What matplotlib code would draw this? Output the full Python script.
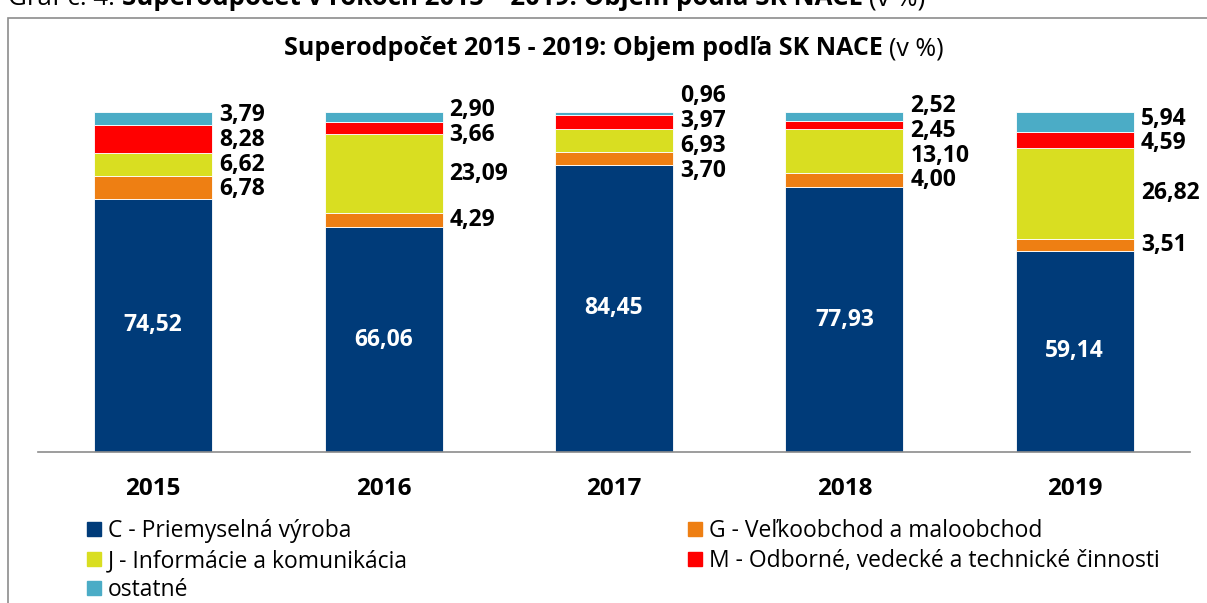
import matplotlib.pyplot as plt
from matplotlib.patches import Rectangle, Patch

plt.rcParams['font.family'] = ['Open Sans', 'DejaVu Sans']

years = ['2015', '2016', '2017', '2018', '2019']
sector_c = [74.52, 66.06, 84.45, 77.93, 59.14]
sector_g = [6.78, 4.29, 3.70, 4.00, 3.51]
sector_j = [6.62, 23.09, 6.93, 13.10, 26.82]
sector_m = [8.28, 3.66, 3.97, 2.45, 4.59]
ostatne = [3.79, 2.90, 0.96, 2.52, 5.94]

names = ['C - Priemyselná výroba', 'G - Veľkoobchod a maloobchod',
         'J - Informácie a komunikácia', 'M - Odborné, vedecké a technické činnosti',
         'ostatné']
colors = ['#003B79', '#EE7F13', '#D9DE21', '#FF0000', '#4BACC6']
series = [sector_c, sector_g, sector_j, sector_m, ostatne]

W, H = 1207, 603
fig = plt.figure(figsize=(W / 100, H / 100), dpi=100)
ax = fig.add_axes([38 / W, 151 / H, 1152 / W, 340 / H])
ax.set_xlim(-0.5, 4.5)
ax.set_ylim(0, 100)

bar_w = 0.512
x = range(len(years))
bottoms = [0.0] * len(years)
for vals, col, name in zip(series, colors, names):
    ax.bar(x, vals, bar_w, bottom=bottoms, color=col, edgecolor='white',
           linewidth=0.6, label=name, clip_on=False)
    bottoms = [b + v for b, v in zip(bottoms, vals)]


def fmt(v):
    return f'{v:.2f}'.replace('.', ',')


def spread(centers, gap, iters=300):
    pos = list(centers)
    for _ in range(iters):
        for k in range(len(pos) - 1):
            d = pos[k + 1] - pos[k]
            if d < gap:
                s = (gap - d) / 2
                pos[k] -= s
                pos[k + 1] += s
    return pos


# values inside the dark bars, the rest labelled to the right
for i in x:
    ax.text(i, sector_c[i] / 2, fmt(sector_c[i]), color='white',
            fontsize=16.5, fontweight='bold', ha='center', va='center')
    base = sector_c[i]
    centers, labels = [], []
    for vals in series[1:]:
        centers.append(base + vals[i] / 2)
        labels.append(fmt(vals[i]))
        base += vals[i]
    for y, lab in zip(spread(centers, 7.3), labels):
        ax.annotate(lab, (i + bar_w / 2, y), xytext=(5, 0),
                    textcoords='offset points', fontsize=16.5,
                    fontweight='bold', va='center', ha='left',
                    annotation_clip=False)

for s in ['top', 'left', 'right']:
    ax.spines[s].set_visible(False)
ax.spines['bottom'].set_color('#8c8c8c')
ax.spines['bottom'].set_linewidth(1.2)
ax.set_yticks([])
ax.set_xticks(list(x))
ax.set_xticklabels(years, fontsize=17.5, fontweight='bold')
ax.tick_params(axis='x', length=0, pad=18)

# outer chart frame
fig.patches.append(Rectangle((8 / W, -0.05), 1.2, 1 - 18 / H + 0.05,
                             transform=fig.transFigure, fill=False,
                             edgecolor='#8c8c8c', linewidth=1.2))

renderer = fig.canvas.get_renderer()


def mixed_text(xpos, ypos, parts, size, center=False):
    items = []
    cur = xpos
    for txt, weight in parts:
        t = fig.text(cur, ypos, txt, fontsize=size, fontweight=weight,
                     va='baseline', ha='left')
        bb = t.get_window_extent(renderer)
        cur += bb.width / W
        items.append(t)
    if center:
        shift = (cur - xpos) / 2
        for t in items:
            t.set_x(t.get_position()[0] - shift)


mixed_text(614 / W, 1 - 55 / H,
           [('Superodpočet 2015 - 2019: Objem podľa SK NACE ', 'bold'),
            ('(v %)', 'normal')], 18, center=True)
mixed_text(8 / W, 1 - 5 / H,
           [('Graf č. 4: ', 'normal'),
            ('Superodpočet v rokoch 2015 – 2019: Objem podľa SK NACE ', 'bold'),
            ('(v %)', 'normal')], 18.6)

handles = [Patch(color=c) for c in colors]
common = dict(frameon=False, fontsize=16.5, handlelength=0.58, handleheight=0.58,
              handletextpad=0.3, borderpad=0, labelspacing=0.24,
              loc='upper left')
fig.legend([handles[0], handles[2], handles[4]], [names[0], names[2], names[4]],
           bbox_to_anchor=(76 / W, 1 - 508 / H), **common)
fig.legend([handles[1], handles[3]], [names[1], names[3]],
           bbox_to_anchor=(677 / W, 1 - 508 / H), **common)

fig.savefig('out.png', dpi=100)
